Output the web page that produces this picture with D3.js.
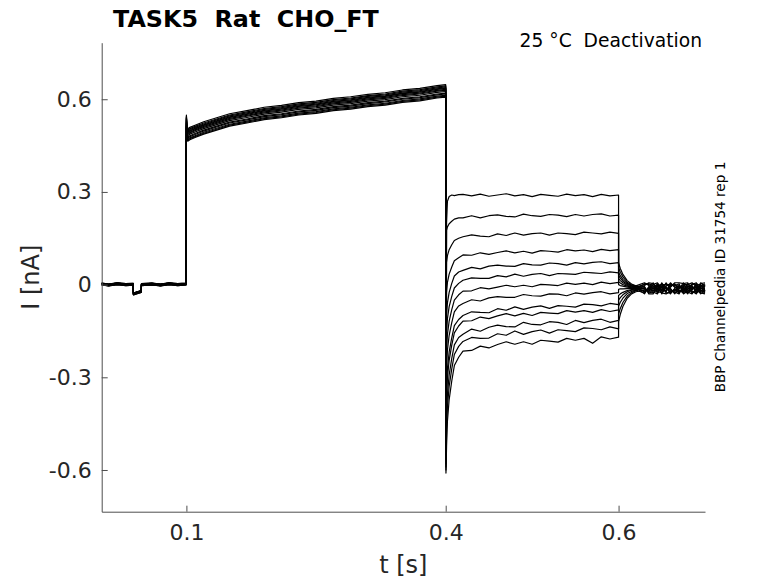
<!DOCTYPE html>
<html lang="en">
<head>
<meta charset="utf-8">
<title>TASK5 Rat CHO_FT</title>
<style>
  body{ margin:0; background:#fff; }
  svg{ display:block; font-family:"DejaVu Sans", sans-serif; }
  text{ white-space:pre; }
  .axis path, .axis line{ stroke:#4d4d4d; }
  .axis text{ fill:#262626; font-size:22px; }
</style>
</head>
<body>
<div id="chart"></div>
<script src="https://d3js.org/d3.v7.min.js"></script>
<script>
// ---- data (t in s, I in nA) ----
// holding + depolarising prepulse, shared shape of the sweeps
const tPre = [0.002, 0.01, 0.02, 0.03, 0.0385, 0.0387, 0.043, 0.0478, 0.048, 0.06, 0.07, 0.08, 0.09, 0.0995,
              0.1, 0.1006, 0.1015, 0.104, 0.11, 0.12, 0.135, 0.15, 0.17, 0.19, 0.21, 0.23, 0.25, 0.27, 0.29,
              0.31, 0.33, 0.35, 0.37, 0.39, 0.4];
const iPreMean = [0.002, -0.001, 0.003, 0.0, 0.001, -0.03, -0.026, -0.022, 0.0, 0.002, -0.001, 0.003, 0.0, 0.002,
                  0.53, 0.5, 0.485, 0.49, 0.497, 0.508, 0.521, 0.534, 0.544, 0.555, 0.561, 0.570, 0.575, 0.584, 0.589,
                  0.597, 0.602, 0.611, 0.616, 0.625, 0.628];
// per sweep offsets: before the prepulse / during the prepulse
const preBaseOffset = [0.002, -0.002, 0.003, -0.001, 0.001, -0.003, 0.002, 0.0, 0.003, -0.002, 0.001, -0.003, 0.002];
const preStepOffset = [0.012, -0.008, 0.019, -0.015, 0.004, -0.021, 0.009, -0.003, 0.015, -0.011, 0.001, -0.018, 0.007];

// test pulses after t = 0.4 s
const tStep = [0.4003, 0.401, 0.402, 0.404, 0.407, 0.41, 0.415,
               0.42, 0.43, 0.44, 0.45, 0.46, 0.47, 0.48, 0.49, 0.5, 0.51,
               0.52, 0.53, 0.54, 0.55, 0.56, 0.57, 0.58, 0.59, 0.6];
const iStep = [
  [-0.35, 0.20, 0.27, 0.285, 0.29, 0.288, 0.291,
   0.292, 0.287, 0.293, 0.286, 0.290, 0.294, 0.287, 0.291, 0.285, 0.292, 0.289, 0.286, 0.293, 0.288, 0.291, 0.285, 0.292, 0.287, 0.290],
  [-0.40, 0.176, 0.187, 0.197, 0.205, 0.212, 0.216,
   0.216, 0.223, 0.216, 0.223, 0.226, 0.221, 0.219, 0.228, 0.223, 0.221, 0.227, 0.225, 0.220, 0.227, 0.222, 0.227, 0.229, 0.222, 0.225],
  [-0.45, 0.072, 0.094, 0.113, 0.129, 0.143, 0.150,
   0.155, 0.161, 0.157, 0.155, 0.164, 0.159, 0.167, 0.160, 0.165, 0.167, 0.160, 0.167, 0.165, 0.162, 0.170, 0.167, 0.164, 0.170, 0.166],
  [-0.48, -0.025, 0.007, 0.034, 0.057, 0.077, 0.087,
   0.096, 0.095, 0.103, 0.098, 0.104, 0.109, 0.103, 0.108, 0.102, 0.110, 0.108, 0.105, 0.113, 0.109, 0.112, 0.107, 0.114, 0.110, 0.113],
  [-0.50, -0.097, -0.059, -0.025, 0.004, 0.028, 0.041,
   0.046, 0.056, 0.051, 0.060, 0.063, 0.060, 0.059, 0.068, 0.064, 0.063, 0.070, 0.068, 0.063, 0.071, 0.067, 0.072, 0.074, 0.068, 0.071],
  [-0.52, -0.154, -0.110, -0.071, -0.038, -0.011, 0.004,
   0.014, 0.022, 0.020, 0.020, 0.029, 0.025, 0.034, 0.027, 0.033, 0.036, 0.029, 0.036, 0.035, 0.033, 0.040, 0.038, 0.036, 0.041, 0.038],
  [-0.54, -0.211, -0.161, -0.118, -0.081, -0.050, -0.033,
   -0.021, -0.020, -0.010, -0.014, -0.008, -0.002, -0.007, -0.002, -0.007, 0.001, -0.001, -0.003, 0.005, 0.001, 0.005, 0.000, 0.008, 0.003, 0.007],
  [-0.55, -0.268, -0.212, -0.164, -0.123, -0.088, -0.069,
   -0.061, -0.049, -0.053, -0.043, -0.039, -0.041, -0.041, -0.032, -0.036, -0.037, -0.030, -0.031, -0.036, -0.027, -0.031, -0.026, -0.023, -0.030, -0.026],
  [-0.57, -0.334, -0.272, -0.218, -0.172, -0.133, -0.113,
   -0.100, -0.088, -0.090, -0.091, -0.078, -0.083, -0.072, -0.080, -0.073, -0.069, -0.077, -0.068, -0.070, -0.073, -0.063, -0.065, -0.069, -0.061, -0.065],
  [-0.58, -0.367, -0.302, -0.245, -0.196, -0.156, -0.134,
   -0.118, -0.117, -0.105, -0.110, -0.101, -0.094, -0.101, -0.093, -0.100, -0.090, -0.092, -0.094, -0.084, -0.089, -0.084, -0.090, -0.081, -0.087, -0.082],
  [-0.59, -0.424, -0.354, -0.292, -0.239, -0.195, -0.171,
   -0.161, -0.144, -0.151, -0.138, -0.131, -0.136, -0.137, -0.122, -0.129, -0.130, -0.120, -0.122, -0.129, -0.116, -0.123, -0.116, -0.112, -0.122, -0.116],
  [-0.60, -0.470, -0.395, -0.329, -0.273, -0.226, -0.200,
   -0.184, -0.171, -0.174, -0.173, -0.159, -0.164, -0.150, -0.161, -0.152, -0.147, -0.157, -0.146, -0.149, -0.152, -0.140, -0.142, -0.146, -0.137, -0.143],
  [-0.61, -0.522, -0.442, -0.372, -0.312, -0.262, -0.235,
   -0.215, -0.213, -0.199, -0.205, -0.194, -0.185, -0.193, -0.185, -0.193, -0.180, -0.183, -0.186, -0.174, -0.180, -0.174, -0.190, -0.169, -0.176, -0.170]
];

// tail currents after t = 0.6 s
const tTail = [0.6, 0.602, 0.605, 0.61, 0.615, 0.62,
               0.63, 0.635, 0.64, 0.645, 0.65, 0.655, 0.66, 0.665, 0.67, 0.675, 0.68, 0.685, 0.69, 0.695, 0.7];
const iTail = [
  [0.07, 0.052, 0.033, 0.013, 0.002, -0.004,
   0.006, -0.003, -0.015, 0.003, -0.021, -0.006, -0.030, -0.012, 0.000, -0.024, -0.009, -0.027, -0.018, 0.006, -0.006],
  [0.055, 0.040, 0.025, 0.008, -0.001, -0.005,
   -0.009, -0.027, -0.024, -0.030, -0.003, -0.012, -0.018, -0.024, -0.030, -0.003, -0.006, -0.003, -0.027, -0.018, -0.027],
  [0.04, 0.029, 0.017, 0.004, -0.003, -0.007,
   -0.024, -0.012, 0.006, -0.024, -0.024, -0.018, -0.006, 0.003, -0.021, -0.021, -0.003, -0.018, 0.003, -0.003, -0.009],
  [0.03, 0.021, 0.011, 0.001, -0.005, -0.008,
   0.000, 0.003, -0.003, -0.018, -0.006, -0.024, 0.006, -0.009, -0.012, 0.000, 0.000, 0.006, -0.006, -0.027, -0.030],
  [0.02, 0.013, 0.006, -0.002, -0.007, -0.009,
   -0.015, -0.021, -0.012, -0.012, -0.027, -0.030, -0.021, -0.021, -0.003, -0.018, 0.003, -0.009, -0.015, -0.012, -0.012],
  [0.01, 0.005, 0.0, -0.005, -0.008, -0.010,
   -0.030, -0.006, -0.021, -0.006, -0.009, 0.003, -0.009, 0.006, 0.006, 0.003, 0.006, -0.024, -0.024, 0.003, 0.006],
  [0.0, -0.003, -0.005, -0.008, -0.010, -0.011,
   -0.006, -0.030, -0.030, 0.000, -0.030, -0.003, 0.003, -0.006, -0.024, -0.015, -0.030, 0.000, 0.006, -0.021, -0.015],
  [-0.015, -0.014, -0.014, -0.013, -0.012, -0.012,
   -0.021, -0.015, 0.000, 0.006, -0.012, -0.009, -0.024, -0.018, -0.015, 0.006, -0.027, -0.015, -0.003, -0.006, 0.003],
  [-0.035, -0.030, -0.025, -0.019, -0.016, -0.014,
   0.003, 0.000, -0.009, -0.027, 0.006, -0.015, -0.012, -0.030, -0.006, -0.012, -0.024, -0.030, -0.012, -0.030, -0.018],
  [-0.05, -0.042, -0.033, -0.023, -0.018, -0.016,
   -0.012, -0.024, -0.018, -0.021, -0.015, -0.021, 0.000, -0.003, 0.003, -0.030, -0.021, -0.006, -0.021, -0.015, 0.000],
  [-0.07, -0.057, -0.044, -0.029, -0.022, -0.018,
   -0.027, -0.009, -0.027, -0.015, 0.003, -0.027, -0.027, -0.015, -0.027, -0.009, -0.018, -0.021, -0.030, 0.000, -0.021],
  [-0.095, -0.077, -0.058, -0.037, -0.026, -0.020,
   -0.003, 0.006, 0.003, -0.009, -0.018, 0.006, -0.015, -0.027, -0.018, -0.027, -0.015, 0.003, 0.000, -0.024, -0.003],
  [-0.12, -0.096, -0.071, -0.044, -0.030, -0.023,
   -0.018, -0.018, -0.006, -0.003, 0.000, 0.000, -0.003, 0.000, -0.009, -0.006, -0.012, -0.012, -0.009, -0.009, -0.024]
];

const xTicks = [0.1, 0.4, 0.6];
const yTicks = [-0.6, -0.3, 0, 0.3, 0.6];

// ---- drawing ----
const w = 778, h = 583;
const svg = d3.select('#chart').append('svg').attr('width', w).attr('height', h);

const x = d3.scaleLinear().domain([0.002, 0.7]).range([101.7, 705]);
const y = d3.scaleLinear().domain([-0.735, 0.783]).range([511.7, 42.7]);

const line = d3.line().x(d => x(d[0])).y(d => y(d[1]));

iStep.forEach(function(row, k){
  var pts = [];
  tPre.forEach(function(t, j){
    pts.push([t, iPreMean[j] + (t < 0.1 ? preBaseOffset[k] : preStepOffset[k])]);
  });
  tStep.forEach(function(t, j){ pts.push([t, row[j]]); });
  tTail.forEach(function(t, j){ pts.push([t, iTail[k][j]]); });
  svg.append('path').datum(pts).attr('d', line)
     .attr('fill', 'none').attr('stroke', '#000').attr('stroke-width', 1.2)
     .attr('stroke-linejoin', 'round');
});

const fmt = d => d === 0 ? '0' : (d < 0 ? '-' : '') + Math.abs(d).toFixed(1);

svg.append('g').attr('class', 'axis').attr('transform', 'translate(' + x.range()[0] + ',0)')
   .call(d3.axisLeft(y).tickValues(yTicks).tickFormat(fmt).tickSizeInner(-6).tickSizeOuter(0).tickPadding(10))
   .attr('font-family', null).attr('font-size', null);

svg.append('g').attr('class', 'axis').attr('transform', 'translate(0,' + y.range()[0] + ')')
   .call(d3.axisBottom(x).tickValues(xTicks).tickFormat(d => d.toFixed(1)).tickSizeInner(-6).tickSizeOuter(0).tickPadding(13))
   .attr('font-family', null).attr('font-size', null);

// labels
svg.append('text').text('t [s]').attr('x', (x.range()[0] + x.range()[1]) / 2).attr('y', 573)
   .attr('text-anchor', 'middle').style('font-size', '24px').style('fill', '#262626');

svg.append('text').text('I [nA]').attr('transform', 'translate(39,' + ((y.range()[0] + y.range()[1]) / 2) + ') rotate(-90)')
   .attr('text-anchor', 'middle').style('font-size', '24px').style('fill', '#262626');

svg.append('text').text('TASK5  Rat  CHO_FT').attr('x', 113).attr('y', 27)
   .style('font-size', '23.8px').style('font-weight', 'bold').style('fill', '#000');

svg.append('text').text('25 °C  Deactivation').attr('x', 702).attr('y', 47)
   .attr('text-anchor', 'end').style('font-size', '18.7px').style('fill', '#000');

svg.append('text').text('BBP Channelpedia ID 31754 rep 1').attr('transform', 'translate(725,277) rotate(-90)')
   .attr('text-anchor', 'middle').style('font-size', '13.6px').style('fill', '#000');
</script>
</body>
</html>
